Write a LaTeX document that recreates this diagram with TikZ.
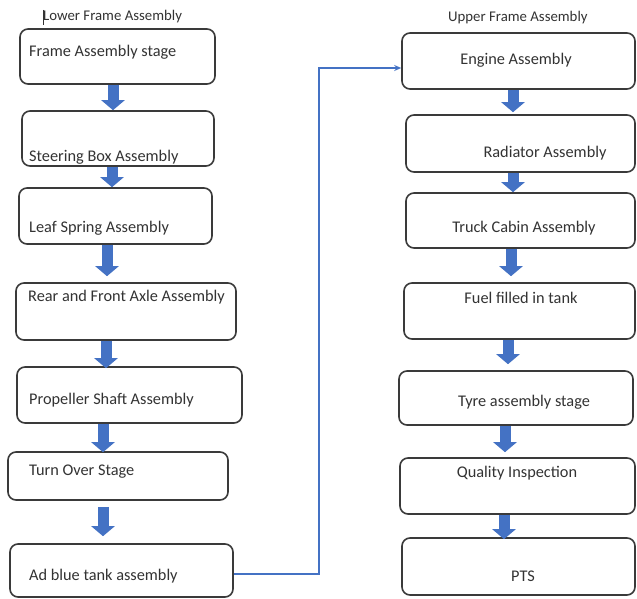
\documentclass[tikz,border=0pt]{standalone}
\usepackage{fontspec}
\setmainfont{Carlito}
\usetikzlibrary{arrows.meta}
\definecolor{oblue}{HTML}{4472C4}
\definecolor{edge}{HTML}{3A3A3A}
\definecolor{txt}{HTML}{333333}
\begin{document}
\begin{tikzpicture}[x=1pt,y=-1pt,
  box/.style={draw=edge, line width=1.6pt, rounded corners=8pt, inner sep=0pt, fill=white},
  lbl/.style={inner sep=0pt, text=txt, font=\fontsize{16.3}{18}\selectfont},
  ttl/.style={inner sep=0pt, text=txt, font=\fontsize{14.8}{17}\selectfont},
  blk/.style={draw=oblue, line width=11pt, -{Triangle[width=23pt,length=10pt]}},
  conn/.style={draw=oblue, line width=1.6pt, -{Stealth[length=7pt,width=6pt]}}]
\useasboundingbox[fill=white] (0,0) rectangle (637,599);

% titles
\node[ttl, anchor=west] (tlow) at (43,17) {Lower Frame Assembly};
\node[ttl, anchor=west] (tup) at (448,18) {Upper Frame Assembly};
\draw[line width=0.6pt, txt] (43,10) -- (43,25);

% left column boxes
\node[box, minimum width=195pt, minimum height=55pt] (L1) at (117.5,56.5) {};
\node[box, minimum width=192pt, minimum height=55pt] (L2) at (118,138.5) {};
\node[box, minimum width=193pt, minimum height=56pt] (L3) at (115.5,216) {};
\node[box, minimum width=220pt, minimum height=57pt] (L4) at (126,311.5) {};
\node[box, minimum width=225pt, minimum height=56pt] (L5) at (129.5,395) {};
\node[box, minimum width=220pt, minimum height=48pt] (L6) at (118,476) {};
\node[box, minimum width=223pt, minimum height=53pt] (L7) at (121.5,570.5) {};

\node[lbl, anchor=west] (tL1) at (29,52) {Frame Assembly stage};
\node[lbl, anchor=west] (tL2) at (29,157) {Steering Box Assembly};
\node[lbl, anchor=west] (tL3) at (29,228) {Leaf Spring Assembly};
\node[lbl, anchor=west] (tL4) at (28,297) {Rear and Front Axle Assembly};
\node[lbl, anchor=west] (tL5) at (29,400) {Propeller Shaft Assembly};
\node[lbl, anchor=west] (tL6) at (29,472) {Turn Over Stage};
\node[lbl, anchor=west] (tL7) at (29,576) {Ad blue tank assembly};

% right column boxes
\node[box, minimum width=233pt, minimum height=56pt] (R1) at (518.5,61) {};
\node[box, minimum width=229pt, minimum height=57pt] (R2) at (520.5,143.5) {};
\node[box, minimum width=229pt, minimum height=55pt] (R3) at (520.5,220.5) {};
\node[box, minimum width=231pt, minimum height=56pt] (R4) at (519.5,311) {};
\node[box, minimum width=234pt, minimum height=54pt] (R5) at (516,398) {};
\node[box, minimum width=235pt, minimum height=56pt] (R6) at (517.5,486) {};
\node[box, minimum width=233pt, minimum height=57pt] (R7) at (518.5,566.5) {};

\node[lbl] (tR1) at (516,60) {Engine Assembly};
\node[lbl] (tR2) at (545,153) {Radiator Assembly};
\node[lbl] (tR3) at (524,228) {Truck Cabin Assembly};
\node[lbl] (tR4) at (521,298) {Fuel filled in tank};
\node[lbl] (tR5) at (524,402) {Tyre assembly stage};
\node[lbl] (tR6) at (517,473) {Quality Inspection};
\node[lbl] (tR7) at (523,576) {PTS};

% block arrows, left
\draw[blk] ([shift={(-4.5,0)}]L1.south) -- ([shift={(-5,0)}]L2.north);
\draw[blk] ([shift={(-6,0)}]L2.south) -- ([shift={(-3.5,0)}]L3.north);
\draw[blk] ([shift={(-8.5,0)}]L3.south) -- ([shift={(-19,-6)}]L4.north);
\draw[blk] ([shift={(-20,0)}]L4.south) -- ([shift={(-23.5,2)}]L5.north);
\draw[blk] ([shift={(-26.5,0)}]L5.south) -- ([shift={(-15,1)}]L6.north);
\draw[blk] ([shift={(-15,6)}]L6.south) -- ([shift={(-18.5,-7)}]L7.north);

% block arrows, right
\draw[blk] ([shift={(-5.5,0)}]R1.south) -- ([shift={(-7.5,-2)}]R2.north);
\draw[blk] ([shift={(-7.5,0)}]R2.south) -- ([shift={(-7.5,0)}]R3.north);
\draw[blk] ([shift={(-9.5,0)}]R3.south) -- ([shift={(-8.5,-6)}]R4.north);
\draw[blk] ([shift={(-11.5,0)}]R4.south) -- ([shift={(-8,-6)}]R5.north);
\draw[blk] ([shift={(-11,0)}]R5.south) -- ([shift={(-12.5,-5)}]R6.north);
\draw[blk] ([shift={(-13.5,0)}]R6.south) -- ([shift={(-14.5,2)}]R7.north);

% connector
\draw[conn] ([shift={(0,3.5)}]L7.east) -- ++(85,0) |- ([shift={(0,7)}]R1.west);
\end{tikzpicture}
\end{document}
